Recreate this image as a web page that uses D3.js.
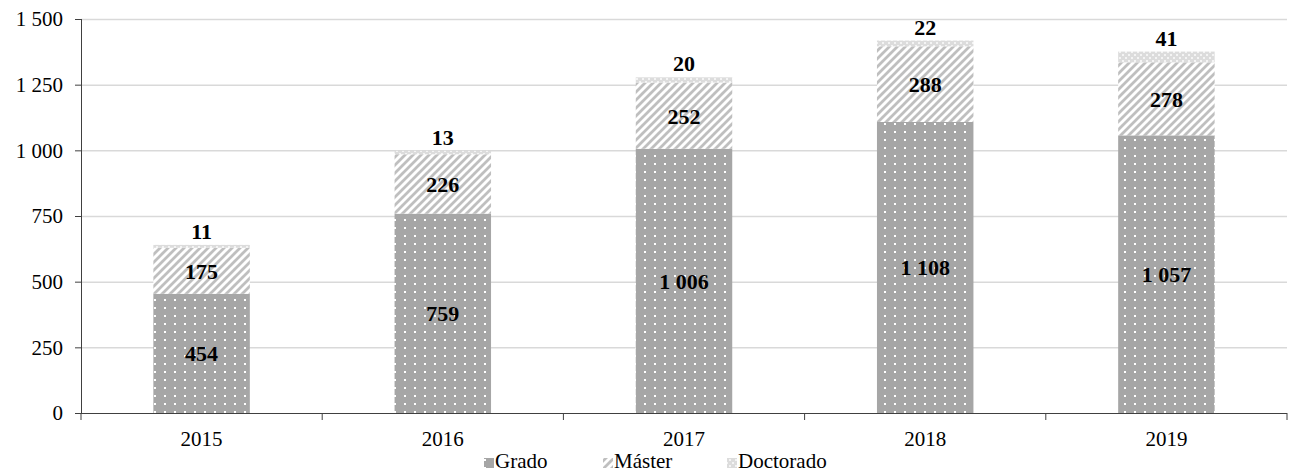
<!DOCTYPE html>
<html><head><meta charset="utf-8">
<script src="https://cdn.jsdelivr.net/npm/d3@7"></script>
<style>body{margin:0;background:#fff}svg{display:block}svg text{font-family:"Liberation Serif","Times New Roman",Tinos,serif}</style>
</head><body>
<svg id="c" width="1291" height="474"></svg>
<script>
const categories = ["2015","2016","2017","2018","2019"];
const grado = [454,759,1006,1108,1057];
const master = [175,226,252,288,278];
const doctorado = [11,13,20,22,41];
const seriesNames = ["Grado","Máster","Doctorado"];
const yTicks = [0,250,500,750,1000,1250,1500];

const svg = d3.select("#c");
const m = {left:81, right:1287, top:19, bottom:413};
const x = d3.scaleBand().domain(categories).range([m.left,m.right]).paddingInner(0.6).paddingOuter(0.3);
const xc = d3.scaleBand().domain(categories).range([m.left,m.right]);
const y = d3.scaleLinear().domain([0,1500]).range([m.bottom,m.top]);
const fmt = v => d3.format(",")(v).replace(/,/g," ");

const defs = svg.append("defs");
const pd = defs.append("pattern").attr("id","pDots").attr("patternUnits","userSpaceOnUse").attr("width",10).attr("height",8);
pd.append("rect").attr("width",10).attr("height",8).attr("fill","#a6a6a6");
pd.append("rect").attr("x",4).attr("y",3).attr("width",2).attr("height",2).attr("fill","#fff");
const ph = defs.append("pattern").attr("id","pHatch").attr("patternUnits","userSpaceOnUse").attr("width",8).attr("height",8);
ph.append("rect").attr("width",8).attr("height",8).attr("fill","#fff");
ph.append("path").attr("d","M-2,2 L2,-2 M0,8 L8,0 M6,10 L10,6").attr("stroke","#bfbfbf").attr("stroke-width",2.8);
const pc = defs.append("pattern").attr("id","pCross").attr("patternUnits","userSpaceOnUse").attr("width",6).attr("height",6);
pc.append("rect").attr("width",6).attr("height",6).attr("fill","#dcdcdc");
pc.append("rect").attr("x",0).attr("y",0).attr("width",2).attr("height",2).attr("fill","#f4f4f4");
pc.append("rect").attr("x",3).attr("y",3).attr("width",2).attr("height",2).attr("fill","#f4f4f4");

// grid
svg.append("g").selectAll("line").data(yTicks.filter(d=>d>0)).join("line")
  .attr("x1",m.left).attr("x2",m.right).attr("y1",d=>y(d)+0.5).attr("y2",d=>y(d)+0.5)
  .attr("stroke","#d9d9d9").attr("stroke-width",1.5);

// stacked bars
const fills = ["url(#pDots)","url(#pHatch)","url(#pCross)"];
const data = categories.map((c,i)=>({cat:c, Grado:grado[i], "Máster":master[i], Doctorado:doctorado[i]}));
const stack = d3.stack().keys(seriesNames)(data);
const gBars = svg.append("g");
stack.forEach((s,si)=>{
  gBars.selectAll(null).data(s).join("rect")
    .attr("x",d=>x(d.data.cat)).attr("width",x.bandwidth())
    .attr("y",d=>y(d[1])).attr("height",d=>y(d[0])-y(d[1]))
    .attr("fill",fills[si]);
});

// labels
const gl = svg.append("g").style("font-weight","bold").style("font-size","22px").attr("text-anchor","middle").attr("fill","#000");
stack.forEach((s,si)=>{
  gl.selectAll(null).data(s).join("text")
    .attr("x",d=>x(d.data.cat)+x.bandwidth()/2)
    .attr("y",d=> si<2 ? (y(d[0])+y(d[1]))/2+8 : y(d[1])-6)
    .text(d=>fmt(d[1]-d[0]));
});

// y axis
const ya = svg.append("g").attr("transform",`translate(${m.left},0)`)
  .call(d3.axisLeft(y).tickValues(yTicks).tickSize(6).tickPadding(12).tickFormat(fmt));
ya.select(".domain").attr("stroke","#404040").attr("d",`M0.5,${m.top}V${m.bottom}`);
ya.selectAll(".tick line").attr("stroke","#404040");
ya.selectAll("text").style("font-size","21px").attr("fill","#000");

// x axis
const xa = svg.append("g").attr("transform",`translate(0,${m.bottom})`);
xa.append("line").attr("x1",m.left).attr("x2",m.right).attr("y1",0.5).attr("y2",0.5).attr("stroke","#404040");
xa.selectAll(".tk").data(categories.concat(["end"])).join("line")
  .attr("x1",(d,i)=> i<categories.length ? xc(d) : m.right).attr("x2",(d,i)=> i<categories.length ? xc(d) : m.right)
  .attr("y1",0).attr("y2",7).attr("stroke","#404040");
xa.selectAll("text").data(categories).join("text")
  .attr("x",d=>xc(d)+xc.bandwidth()/2).attr("y",33).attr("text-anchor","middle")
  .style("font-size","21px").text(d=>d);

// legend
const legX = [484,603,727];
const lg = svg.append("g").style("font-size","21px");
seriesNames.forEach((n,i)=>{
  lg.append("rect").attr("x",legX[i]).attr("y",458).attr("width",10).attr("height",10).attr("fill",fills[i]);
  lg.append("text").attr("x",legX[i]+11).attr("y",468).text(n);
});
</script>
</body></html>
